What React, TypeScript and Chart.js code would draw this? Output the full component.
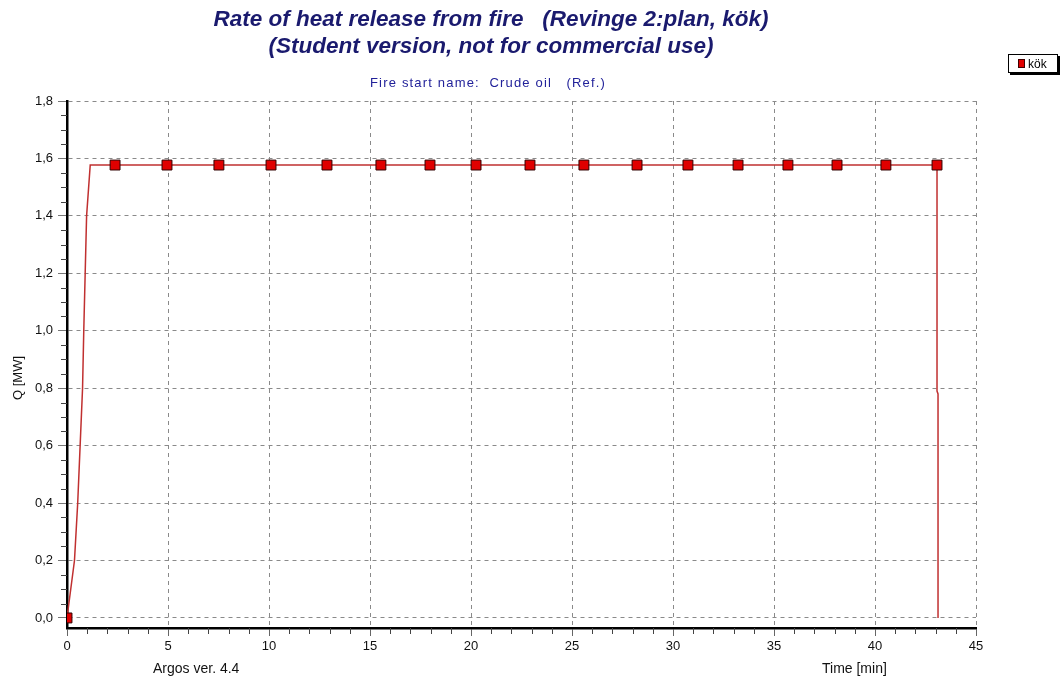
import React, { useEffect, useRef } from "react";
import { Chart, registerables } from "chart.js";

Chart.register(...registerables);

// Line trace (time in minutes, heat release in MW)
const lineTimes = [0, 0.37, 0.53, 0.65, 0.77, 0.83, 0.9, 0.97, 1.15, 43.07, 43.07, 43.12, 43.12];
const lineValues = [0, 0.2, 0.4, 0.6, 0.8, 1.0, 1.2, 1.4, 1.577, 1.577, 0.79, 0.78, 0];

// Marker positions
const markerTimes = [0, 2.38, 4.95, 7.52, 10.1, 12.87, 15.54, 17.97, 20.25, 22.92, 25.59, 28.22, 30.74, 33.22, 35.69, 38.12, 40.54, 43.07];
const markerValues = [0, 1.577, 1.577, 1.577, 1.577, 1.577, 1.577, 1.577, 1.577, 1.577, 1.577, 1.577, 1.577, 1.577, 1.577, 1.577, 1.577, 1.577];

const yTicks = [0, 0.2, 0.4, 0.6, 0.8, 1.0, 1.2, 1.4, 1.6, 1.8];
const xTicks = [0, 5, 10, 15, 20, 25, 30, 35, 40, 45];

const titleLine1 = "Rate of heat release from fire   (Revinge 2:plan, kök)";
const titleLine2 = "(Student version, not for commercial use)";
const subTitle = "Fire start name:  Crude oil   (Ref.)";
const seriesName = "kök";
const yTitle = "Q [MW]";
const xTitle = "Time [min]";
const footer = "Argos ver. 4.4";

const FONT = "'Liberation Sans', Arial, sans-serif";
const NAVY = "#1a1a6e";

const decorPlugin = {
  id: "decor",
  afterDraw(chart: any) {
    const ctx = chart.ctx as CanvasRenderingContext2D;
    const xs = chart.scales.x;
    const ys = chart.scales.y;
    const ca = chart.chartArea;
    ctx.save();
    // minor ticks
    ctx.strokeStyle = "#444";
    ctx.lineWidth = 1;
    ctx.beginPath();
    for (let i = 1; i < 45; i++) {
      if (i % 5 === 0) continue;
      const px = Math.round(xs.getPixelForValue(i)) + 0.5;
      ctx.moveTo(px, ca.bottom);
      ctx.lineTo(px, ca.bottom + 6);
    }
    for (let i = 1; i < 36; i++) {
      if (i % 4 === 0) continue;
      const py = Math.round(ys.getPixelForValue(i * 0.05)) + 0.5;
      ctx.moveTo(ca.left - 6, py);
      ctx.lineTo(ca.left, py);
    }
    ctx.stroke();

    // titles
    ctx.fillStyle = NAVY;
    ctx.textBaseline = "alphabetic";
    ctx.textAlign = "center";
    ctx.font = `italic bold 22.5px ${FONT}`;
    ctx.fillText(titleLine1, 491, 26);
    ctx.fillText(titleLine2, 491, 53);

    ctx.font = `13px ${FONT}`;
    ctx.fillStyle = "#22229a";
    const w = ctx.measureText(subTitle).width;
    const target = 236;
    const c: any = ctx;
    if ("letterSpacing" in c) {
      c.letterSpacing = `${Math.max(0, (target - w) / subTitle.length)}px`;
    }
    ctx.fillText(subTitle, 488, 87);
    if ("letterSpacing" in c) c.letterSpacing = "0px";

    // axis titles
    ctx.fillStyle = "#111";
    ctx.font = `14px ${FONT}`;
    ctx.textAlign = "left";
    ctx.fillText(footer, 153, 673);
    ctx.fillText(xTitle, 822, 673);
    ctx.textAlign = "center";
    ctx.font = `13px ${FONT}`;
    ctx.save();
    ctx.translate(22, 378);
    ctx.rotate(-Math.PI / 2);
    ctx.fillText(yTitle, 0, 0);
    ctx.restore();

    // legend
    const lx = 1008, ly = 54, lw = 50, lh = 19;
    ctx.fillStyle = "#000";
    ctx.fillRect(lx + 2, ly + 2, lw, lh);
    ctx.fillStyle = "#fff";
    ctx.fillRect(lx, ly, lw, lh);
    ctx.strokeStyle = "#000";
    ctx.lineWidth = 1;
    ctx.strokeRect(lx + 0.5, ly + 0.5, lw - 1, lh - 1);
    ctx.fillStyle = "#e00000";
    ctx.fillRect(lx + 10, ly + 5, 7, 9);
    ctx.strokeStyle = "#400000";
    ctx.strokeRect(lx + 10.5, ly + 5.5, 6, 8);
    ctx.fillStyle = "#000";
    ctx.textAlign = "left";
    ctx.font = `12px ${FONT}`;
    ctx.fillText(seriesName, lx + 20, ly + 14);
    ctx.restore();
  },
};

export default function App() {
  const ref = useRef<HTMLCanvasElement | null>(null);
  useEffect(() => {
    if (!ref.current) return;
    const lineData = lineTimes.map((t, i) => ({ x: t, y: lineValues[i] }));
    const markerData = markerTimes.map((t, i) => ({ x: t, y: markerValues[i] }));
    const chart = new Chart(ref.current, {
      type: "scatter",
      data: {
        datasets: [
          {
            label: seriesName,
            data: lineData,
            showLine: true,
            borderColor: "#c03030",
            borderWidth: 1.5,
            pointRadius: 0,
            fill: false,
            order: 2,
          },
          {
            label: seriesName + " markers",
            data: markerData,
            showLine: false,
            pointStyle: "rect",
            pointRadius: 7,
            backgroundColor: "#e00000",
            borderColor: "#300000",
            borderWidth: 1,
            order: 1,
          },
        ],
      },
      options: {
        animation: false,
        responsive: false,
        maintainAspectRatio: false,
        layout: { padding: { left: 0, top: 101, right: 87, bottom: 0 } },
        plugins: {
          legend: { display: false },
          title: { display: false },
          tooltip: { enabled: false },
        },
        scales: {
          x: {
            type: "linear",
            min: 0,
            max: 45,
            afterBuildTicks: (s: any) => {
              s.ticks = xTicks.map((v) => ({ value: v }));
            },
            afterFit: (s: any) => {
              s.height = 52;
            },
            ticks: {
              color: "#111",
              font: { family: FONT, size: 13 },
              padding: 3,
              maxRotation: 0,
              callback: (v: any) => String(v),
            },
            grid: {
              color: "#8a8a8a",
              tickLength: 8,
              tickColor: "#666",
              drawTicks: true,
            } as any,
            border: { display: true, color: "#000", width: 2.5, dash: [4, 4] },
          },
          y: {
            type: "linear",
            min: -0.035,
            max: 1.8,
            afterBuildTicks: (s: any) => {
              s.ticks = yTicks.map((v) => ({ value: v }));
            },
            afterFit: (s: any) => {
              s.width = 67;
            },
            ticks: {
              color: "#111",
              font: { family: FONT, size: 13 },
              padding: 5,
              callback: (v: any) => Number(v).toFixed(1).replace(".", ","),
            },
            grid: {
              color: "#8a8a8a",
              tickLength: 9,
              tickColor: "#777",
            } as any,
            border: { display: true, color: "#000", width: 2.5, dash: [4, 4] },
          },
        },
      } as any,
      plugins: [decorPlugin],
    });
    return () => chart.destroy();
  }, []);
  return (
    <div style={{ position: "absolute", left: 0, top: 0, width: 1063, height: 680, background: "#fff" }}>
      <canvas ref={ref} width={1063} height={680} style={{ width: 1063, height: 680 }} />
    </div>
  );
}
